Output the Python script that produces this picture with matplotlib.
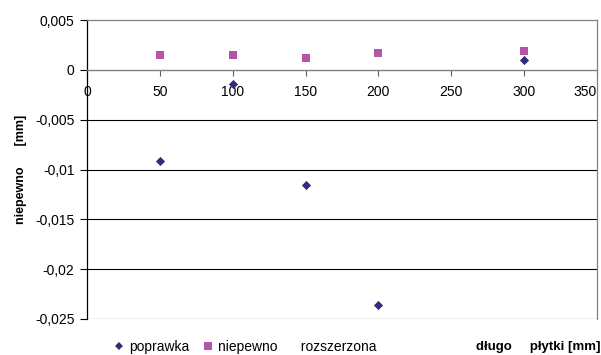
import matplotlib
matplotlib.use("Agg")
import matplotlib.pyplot as plt
from matplotlib.lines import Line2D

plt.rcParams['font.family'] = ['Liberation Sans', 'DejaVu Sans']

x_vals = [50, 100, 150, 200, 300]
poprawka = [-0.0091, -0.0014, -0.0116, -0.0236, 0.0010]
niepewnosc = [0.0015, 0.0015, 0.0012, 0.0017, 0.0019]
y_ticks = [0.005, 0, -0.005, -0.01, -0.015, -0.02, -0.025]
y_labels = ["0,005", "0", "-0,005", "-0,01", "-0,015", "-0,02", "-0,025"]
x_ticks = [0, 50, 100, 150, 200, 250, 300, 350]

navy = "#2E2E7C"
magenta = "#B455AA"

fig = plt.figure(figsize=(6.01, 3.55), dpi=100)
ax = fig.add_axes([87/601, 1-319/355, (597-87)/601, (319-20)/355])

ax.set_xlim(0, 350)
ax.set_ylim(-0.025, 0.005)

for yv in y_ticks:
    if yv in (0, 0.005):
        continue
    ax.axhline(yv, color="black", lw=0.8, zorder=1)

ax.scatter(x_vals, poprawka, marker="D", s=22, color=navy, zorder=3, linewidths=0)
ax.scatter(x_vals, niepewnosc, marker="s", s=36, color=magenta, zorder=3, linewidths=0)

ax.spines['bottom'].set_position(('data', 0))
ax.spines['bottom'].set_color("#808080")
ax.spines['bottom'].set_linewidth(1.0)
ax.spines['top'].set_color("#808080")
ax.spines['right'].set_color("#808080")
ax.spines['left'].set_color("black")
for s in ['top', 'right', 'left']:
    ax.spines[s].set_linewidth(0.9)

ax.set_yticks(y_ticks)
ax.set_yticklabels(y_labels)
ax.set_xticks(x_ticks)
ax.set_xticklabels([str(v) for v in x_ticks])
ax.tick_params(axis='y', direction='out', length=5, width=0.8, labelsize=10, pad=4, color="black")
ax.tick_params(axis='x', direction='out', length=4, width=0.8, labelsize=10, pad=7, color="#606060")
ax.get_xticklabels()[-1].set_horizontalalignment('right')
ax.get_xticklabels()[-1].set_x(350)

ax.set_ylabel("niepewno      [mm]", fontsize=9, fontweight='bold', labelpad=6)

handles = [
    Line2D([], [], marker="D", color=navy, linestyle="none", markersize=4.5, markeredgewidth=0),
    Line2D([], [], marker="s", color=magenta, linestyle="none", markersize=6, markeredgewidth=0),
]
fig.legend(handles, ["poprawka", "niepewno      rozszerzona"], loc="lower left",
           bbox_to_anchor=(112/601, 1/355), ncol=2, frameon=False, fontsize=10,
           handletextpad=0.25, columnspacing=0.8, handlelength=1.0, borderpad=0,
           borderaxespad=0)

fig.text(600/601, 8/355, "długo     płytki [mm]", ha="right", va="center",
         fontsize=9.5, fontweight='bold')

fig.savefig("out.png", dpi=100)
